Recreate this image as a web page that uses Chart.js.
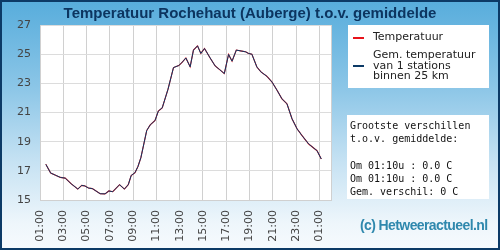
<!DOCTYPE html>
<html>
<head>
<meta charset="utf-8">
<script src="https://cdn.jsdelivr.net/npm/chart.js@4/dist/chart.umd.min.js"></script>
<style>
  html, body { margin: 0; padding: 0; }
  #wrap {
    position: relative; width: 500px; height: 250px; box-sizing: border-box;
    border: 2px solid #0c3a66;
    background: linear-gradient(to bottom, #58addc 0%, #8cc6e7 35%, #c6e2f3 65%, #eef6fb 90%, #f6fafd 100%);
    overflow: hidden;
  }
  #c { position: absolute; left: -2px; top: -2px; }
  #title {
    position: absolute; left: -2px; width: 500px; top: 2px; text-align: center;
    font: bold 15px "Liberation Sans", Arial, sans-serif; color: #0c3560;
  }
  .box { position: absolute; background: #fff; }
  #legend { left: 346px; top: 23px; width: 141px; height: 63px; }
  #info { left: 345px; top: 113px; width: 142px; height: 84px; }
  .lg { position: absolute; left: 25px; font: 11px "DejaVu Sans", sans-serif; color: #222; line-height: 10.5px; white-space: nowrap; }
  .sw { position: absolute; left: 5px; width: 11px; height: 2px; }
  #infotext { position: absolute; left: 3px; top: 4px; font: 10px "DejaVu Sans Mono", monospace; color: #111; line-height: 13.2px; white-space: pre; }
  #copy {
    position: absolute; left: 358px; top: 215px; font: bold 14px "Liberation Sans", Arial, sans-serif;
    color: #2f88ad; letter-spacing: -0.6px; white-space: nowrap;
  }
</style>
</head>
<body>
<div id="wrap">
  <canvas id="c" width="500" height="250"></canvas>
  <div id="title">Temperatuur Rochehaut (Auberge) t.o.v. gemiddelde</div>
  <div id="legend" class="box">
    <div class="sw" style="top:12px;background:#e8131b"></div>
    <div class="lg" style="top:7px">Temperatuur</div>
    <div class="sw" style="top:40px;background:#0c3a66"></div>
    <div class="lg" style="top:25px">Gem. temperatuur<br>van 1 stations<br>binnen 25 km</div>
  </div>
  <div id="info" class="box"><div id="infotext">Grootste verschillen
t.o.v. gemiddelde:

Om 01:10u : 0.0 C
Om 01:10u : 0.0 C
Gem. verschil: 0 C</div></div>
  <div id="copy">(c) Hetweeractueel.nl</div>
</div>
<script>
const times = ["01:30","01:55","02:20","02:45","03:10","03:40","04:15","04:35","04:50","05:10","05:30","06:10","06:35","06:55","07:15","07:50","08:15","08:35","08:50","09:10","09:25","09:40","10:10","10:28","10:53","11:10","11:30","12:00","12:28","12:55","13:10","13:32","13:54","14:11","14:32","14:49","15:08","15:37","16:03","16:26","16:50","17:12","17:30","17:52","18:20","18:40","18:55","19:12","19:38","19:59","20:30","20:56","21:22","21:47","22:13","22:39","23:05","23:31","00:05","00:48","01:10"];
const temperatuur = [17.45,16.85,16.7,16.55,16.5,16.12,15.75,16.0,15.97,15.82,15.78,15.43,15.42,15.62,15.57,16.05,15.75,16.05,16.68,16.88,17.3,17.9,19.76,20.15,20.45,21.1,21.32,22.6,24.08,24.22,24.4,24.74,24.13,25.28,25.57,25.05,25.39,24.74,24.19,23.94,23.67,24.98,24.52,25.28,25.21,25.16,25.05,25.0,24.12,23.78,23.48,23.09,22.52,21.94,21.6,20.57,19.88,19.41,18.84,18.38,17.81];
const gemiddelde = [17.45,16.85,16.7,16.55,16.5,16.12,15.75,16.0,15.97,15.82,15.78,15.43,15.42,15.62,15.57,16.05,15.75,16.05,16.68,16.88,17.3,17.9,19.76,20.15,20.45,21.1,21.32,22.6,24.08,24.22,24.4,24.74,24.13,25.28,25.57,25.05,25.39,24.74,24.19,23.94,23.67,24.98,24.52,25.28,25.21,25.16,25.05,25.0,24.12,23.78,23.48,23.09,22.52,21.94,21.6,20.57,19.88,19.41,18.84,18.38,17.81];
const xTickLabels = ["01:00","03:00","05:00","07:00","09:00","11:00","13:00","15:00","17:00","19:00","21:00","23:00","01:00"];
const yTicks = [15,17,19,21,23,25,27];

// convert clock strings to continuous hours
const hours = [];
times.forEach((t, i) => {
  const [h, m] = t.split(':').map(Number);
  let v = h + m / 60;
  while (i > 0 && v < hours[i - 1]) v += 24;
  hours.push(v);
});
const tickHours = xTickLabels.map((l, i) => 1 + 2 * i);
const toPts = arr => arr.map((y, i) => ({ x: hours[i], y }));

new Chart(document.getElementById('c'), {
  type: 'line',
  data: {
    datasets: [
      { label: 'Gem. temperatuur van 1 stations binnen 25 km', data: toPts(gemiddelde), borderColor: '#0c3a66', borderWidth: 1, pointRadius: 0, tension: 0, order: 0 },
      { label: 'Temperatuur', data: toPts(temperatuur), borderColor: '#e8131b', borderWidth: 1.1, pointRadius: 0, tension: 0, order: 1 }
    ]
  },
  options: {
    responsive: false, animation: false, devicePixelRatio: 1,
    layout: { padding: { top: 25, right: 169, left: 0, bottom: 0 } },
    plugins: { legend: { display: false }, title: { display: false }, tooltip: { enabled: false } },
    scales: {
      x: {
        type: 'linear', min: 1, max: 26,
        afterBuildTicks: s => { s.ticks = tickHours.map(v => ({ value: v })); },
        afterFit: s => { s.height = 50; },
        grid: { color: '#d0d0d0', drawTicks: false },
        border: { color: '#d0d0d0' },
        ticks: {
          minRotation: 90, maxRotation: 90, padding: 10, color: '#444',
          font: { family: 'DejaVu Sans', size: 11 },
          callback: (v) => xTickLabels[tickHours.indexOf(v)]
        }
      },
      y: {
        min: 15, max: 27,
        afterBuildTicks: s => { s.ticks = yTicks.map(v => ({ value: v })); },
        afterFit: s => { s.width = 40; },
        grid: { color: '#dcdcdc', drawTicks: false },
        border: { color: '#d0d0d0' },
        ticks: { padding: 9, color: '#444', font: { family: 'DejaVu Sans', size: 11 } }
      }
    }
  },
  plugins: [{
    id: 'plotbg',
    beforeDraw(chart) {
      const { ctx, chartArea: a } = chart;
      ctx.save(); ctx.fillStyle = '#fff'; ctx.fillRect(a.left, a.top, a.right - a.left, a.bottom - a.top);
      ctx.strokeStyle = '#d0d0d0'; ctx.lineWidth = 1; ctx.beginPath(); ctx.moveTo(a.right + 0.5, a.top); ctx.lineTo(a.right + 0.5, a.bottom); ctx.stroke();
      ctx.restore();
    }
  }]
});
</script>
</body>
</html>
